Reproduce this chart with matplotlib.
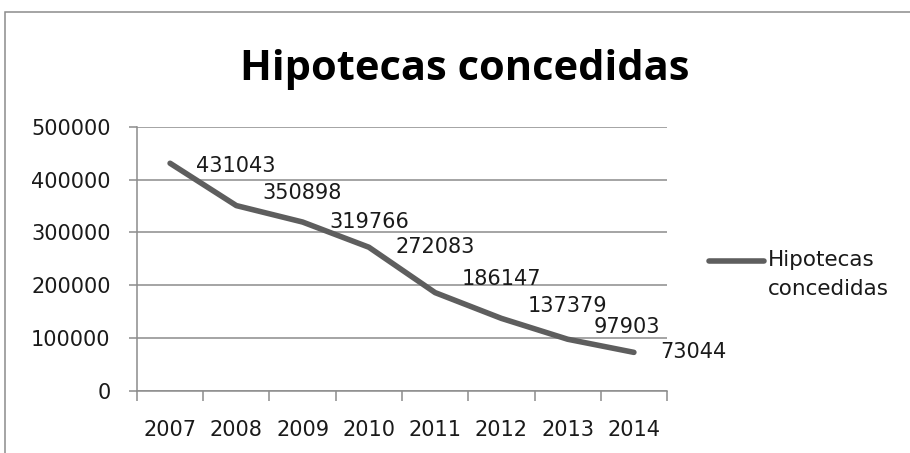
import matplotlib.pyplot as plt
from matplotlib.patches import Rectangle
from matplotlib.lines import Line2D
import numpy as np

plt.rcParams['font.family'] = ['DejaVu Sans']

# --- Data ---
years = ['2007', '2008', '2009', '2010', '2011', '2012', '2013', '2014']
hipotecas = [431043, 350898, 319766, 272083, 186147, 137379, 97903, 73044]
serie = 'Hipotecas\nconcedidas'

# vertical nudge of each data label (points), as placed in the original
label_dy = [-2, 9, 0, 0, 10, 9, 9, 0]

fig = plt.figure(figsize=(9.1, 4.53), dpi=100)
ax = fig.add_axes([0.1505, 0.137, 0.5825, 0.583])

x = np.arange(len(years))
ax.plot(x, hipotecas, color='#5e5e5e', linewidth=4,
        solid_capstyle='round', solid_joinstyle='round')

# data labels to the right of each point
for xi, v, dy in zip(x, hipotecas, label_dy):
    ax.annotate(str(v), (xi, v), xytext=(19, dy), textcoords='offset points',
                ha='left', va='center', fontsize=15, color='#1a1a1a')

ax.set_xlim(-0.5, len(years) - 0.5)
ax.set_ylim(0, 500000)
ax.set_yticks(np.arange(0, 500001, 100000))
ax.set_yticklabels([str(t) for t in range(0, 500001, 100000)])
ax.yaxis.grid(True, color='#8c8c8c', linewidth=1.1)
ax.set_axisbelow(True)

# category boundaries as tick marks, labels centred in between
ax.set_xticks(np.arange(-0.5, len(years)), labels=[''] * (len(years) + 1))
ax.set_xticks(x, labels=years, minor=True)
ax.tick_params(axis='x', which='major', length=7, width=1.1, color='#8c8c8c', direction='out')
ax.tick_params(axis='x', which='minor', length=0, pad=21, labelsize=15, labelcolor='#1a1a1a')
ax.tick_params(axis='y', length=6, width=1.1, color='#8c8c8c', pad=13,
               labelsize=15, labelcolor='#1a1a1a')

for s in ['top', 'right']:
    ax.spines[s].set_visible(False)
for s in ['left', 'bottom']:
    ax.spines[s].set_color('#8c8c8c')
    ax.spines[s].set_linewidth(1.1)

fig.text(0.511, 0.8234, 'Hipotecas concedidas', ha='center', va='baseline',
         fontsize=30, fontweight='bold', family=['Open Sans', 'DejaVu Sans'], color='black')

# legend: line key next to the first text line
ly = 1 - 261 / 453
fig.add_artist(Line2D([0.779, 0.840], [ly, ly], color='#5e5e5e', linewidth=4,
                      solid_capstyle='round', transform=fig.transFigure))
fig.text(0.844, ly + 0.025, serie, ha='left', va='top', fontsize=15.5, color='#1a1a1a',
         linespacing=1.6, transform=fig.transFigure)

# outer chart border
fig.add_artist(Rectangle((0.0055, -0.1), 1.2, 1.0735, transform=fig.transFigure,
                         fill=False, edgecolor='#8c8c8c', linewidth=1.1))

fig.savefig('out.png', dpi=100)
